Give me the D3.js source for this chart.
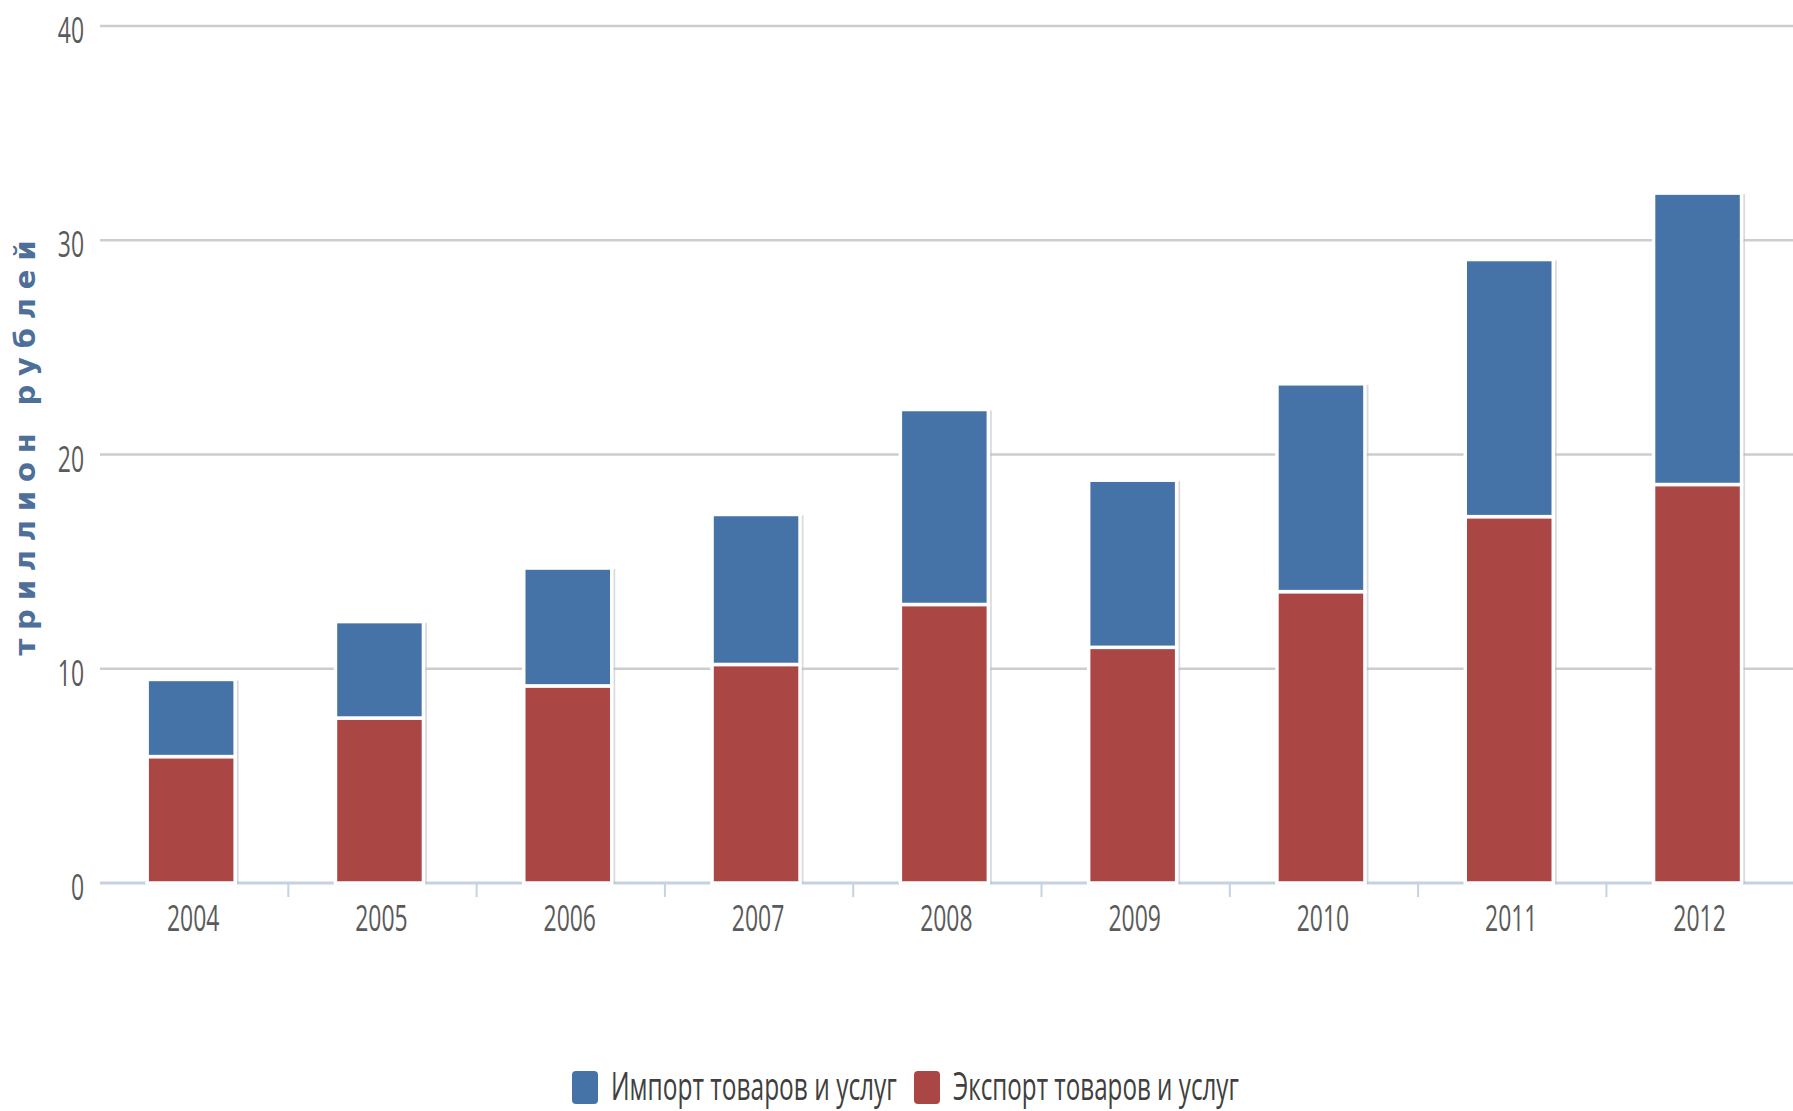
<!DOCTYPE html>
<html>
<head>
<meta charset="utf-8">
<script src="https://cdn.jsdelivr.net/npm/d3@7"></script>
<style>
  html, body { margin: 0; padding: 0; background: #fff; }
  svg { display: block; }
</style>
</head>
<body>
<svg id="chart" width="1793" height="1111"></svg>
<script>
// Stacked columns: export (bottom) + import (top), trillion rubles

const years = ["2004", "2005", "2006", "2007", "2008", "2009", "2010", "2011", "2012"];
const exportValues = [5.9, 7.7, 9.2, 10.2, 13.0, 11.0, 13.6, 17.1, 18.6];
const importValues = [3.6, 4.5, 5.5, 7.0, 9.1, 7.8, 9.7, 12.0, 13.6];
const yTicks = [0, 10, 20, 30, 40];
const seriesNames = { imp: "Импорт товаров и услуг", exp: "Экспорт товаров и услуг" };
const yTitle = "триллион рублей";

const colors = { imp: "#4572A7", exp: "#AA4643" };

const svg = d3.select("#chart");
const margin = { top: 26, left: 100 };
const plotBottom = 883;
const bandW = 188.3;

const x = d3.scaleBand()
    .domain(years)
    .range([margin.left, margin.left + bandW * years.length])
    .paddingInner(0).paddingOuter(0);

const y = d3.scaleLinear().domain([0, 40]).range([plotBottom, margin.top]);

const rows = years.map((yr, i) => ({ year: yr, exp: exportValues[i], imp: importValues[i] }));
const stacked = d3.stack().keys(["exp", "imp"])(rows);

// gridlines
svg.append("g")
    .selectAll("line")
    .data(yTicks.filter(t => t > 0))
    .join("line")
    .attr("x1", margin.left).attr("x2", 1793)
    .attr("y1", d => y(d)).attr("y2", d => y(d))
    .attr("stroke", "#cdcdcd")
    .attr("stroke-width", 2.5);

// x axis line + ticks
svg.append("line")
    .attr("x1", margin.left).attr("x2", 1793)
    .attr("y1", y(0)).attr("y2", y(0))
    .attr("stroke", "#c4d2e2").attr("stroke-width", 3);

svg.append("g")
    .selectAll("line")
    .data(years.slice(1))
    .join("line")
    .attr("x1", d => x(d)).attr("x2", d => x(d))
    .attr("y1", y(0)).attr("y2", y(0) + 14)
    .attr("stroke", "#c4d2e2").attr("stroke-width", 2);

// bars
const barW = 88;
const shift = -3;
const barX = d => x(d.data.year) + (bandW - barW) / 2 + shift;

// shadow
svg.append("g")
    .selectAll("g")
    .data(stacked)
    .join("g")
    .selectAll("rect")
    .data(d => d)
    .join("rect")
    .attr("x", d => barX(d) + 3.5)
    .attr("y", d => y(d[1]) + 1)
    .attr("width", barW)
    .attr("height", d => y(d[0]) - y(d[1]))
    .attr("fill", "#b8bcc4")
    .attr("opacity", 0.55);

svg.append("g")
    .selectAll("g")
    .data(stacked)
    .join("g")
    .attr("fill", d => colors[d.key])
    .selectAll("rect")
    .data(d => d)
    .join("rect")
    .attr("x", barX)
    .attr("y", d => y(d[1]))
    .attr("width", barW)
    .attr("height", d => y(d[0]) - y(d[1]))
    .attr("stroke", "#fff")
    .attr("stroke-width", 3.5);

// tick labels (condensed look)
const labelFont = "'Open Sans', 'DejaVu Sans', sans-serif";
const squeeze = 0.62;

svg.append("g")
    .selectAll("text")
    .data(yTicks)
    .join("text")
    .attr("transform", d => `translate(84, ${y(d) + 17}) scale(${squeeze},1)`)
    .attr("text-anchor", "end")
    .style("font-family", labelFont)
    .style("font-size", "37px")
    .style("fill", "#5a5a5a")
    .text(d => d);

svg.append("g")
    .selectAll("text")
    .data(years)
    .join("text")
    .attr("transform", d => `translate(${x(d) + bandW / 2 - 1}, ${y(0) + 48}) scale(${squeeze},1)`)
    .attr("text-anchor", "middle")
    .style("font-family", labelFont)
    .style("font-size", "37px")
    .style("fill", "#5a5a5a")
    .text(d => d);

// y title
svg.append("text")
    .attr("transform", "translate(35, 448) rotate(-90)")
    .attr("text-anchor", "middle")
    .attr("textLength", 415)
    .attr("lengthAdjust", "spacing")
    .style("font-family", "'DejaVu Sans', sans-serif")
    .style("font-weight", "bold")
    .style("font-size", "29px")
    .style("fill", "#4d6f99")
    .text(yTitle);

// legend
const legendItems = [
    { key: "imp", label: seriesNames.imp },
    { key: "exp", label: seriesNames.exp }
];
const legendTextW = 286;
const itemW = 26 + 12 + legendTextW + 18;
const legendStart = 572;

const legend = svg.append("g")
    .attr("transform", `translate(${legendStart}, 1071)`);

const item = legend.selectAll("g")
    .data(legendItems)
    .join("g")
    .attr("transform", (d, i) => `translate(${i * itemW}, 0)`);

item.append("rect")
    .attr("width", 26).attr("height", 33).attr("rx", 4)
    .attr("fill", d => colors[d.key]);

item.append("text")
    .style("font-family", labelFont)
    .style("font-size", "39px")
    .style("fill", "#404040")
    .text(d => d.label)
    .attr("transform", function () {
        const k = legendTextW / this.getComputedTextLength();
        return `translate(39, 29) scale(${k},1)`;
    });
</script>
</body>
</html>
